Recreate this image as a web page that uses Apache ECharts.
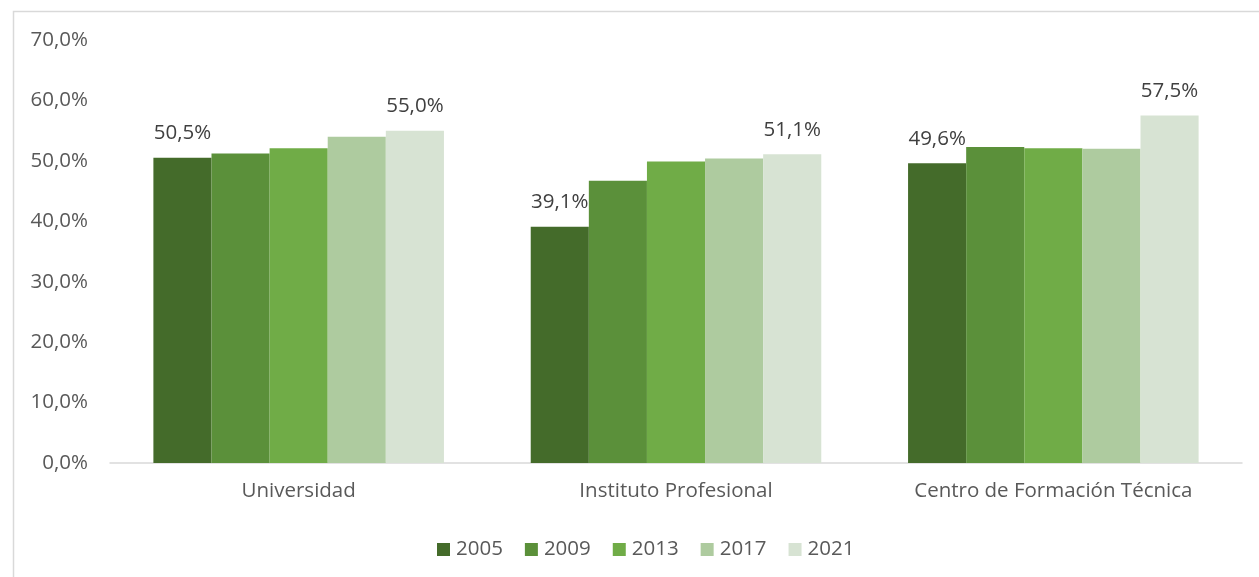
<!DOCTYPE html>
<html>
<head>
<meta charset="utf-8">
<script src="https://cdn.jsdelivr.net/npm/echarts@6/dist/echarts.min.js"></script>
<style>html,body{margin:0;padding:0;background:#fff}#c{width:1259px;height:577px}</style>
</head>
<body>
<div id="c"></div>
<script>
const categories = ['Universidad', 'Instituto Profesional', 'Centro de Formación Técnica'];
const years = ['2005', '2009', '2013', '2017', '2021'];
const v2005 = [50.5, 39.1, 49.6];
const v2009 = [51.2, 46.7, 52.3];
const v2013 = [52.1, 49.9, 52.1];
const v2017 = [54.0, 50.4, 52.0];
const v2021 = [55.0, 51.1, 57.5];
const yTicks = [0, 10, 20, 30, 40, 50, 60, 70];

const seriesValues = [v2005, v2009, v2013, v2017, v2021];
const colors = ['#446B2A', '#5B903A', '#70AC47', '#AECB9F', '#D7E3D3'];
const labelled = [true, false, false, false, true];
const FONT = 'Open Sans';
const FS = 20.5;
const fmt = v => v.toFixed(1).replace('.', ',') + '%';

const chart = echarts.init(document.getElementById('c'), null, {renderer: 'canvas'});
chart.setOption({
  animation: false,
  textStyle: {fontFamily: FONT},
  graphic: [{
    type: 'rect', left: 11, top: 9, silent: true,
    shape: {x: 0, y: 0, width: 1300, height: 620},
    style: {fill: 'none', stroke: '#D9D9D9', lineWidth: 1.5}
  }],
  grid: {left: 110, right: 17, top: 40, bottom: 114},
  legend: {
    data: years, bottom: 12, left: 432,
    itemWidth: 13, itemHeight: 13, itemGap: 22, icon: 'rect',
    textStyle: {fontFamily: FONT, fontSize: FS, color: '#595959', padding: [0, 0, 0, 1]}
  },
  xAxis: {
    type: 'category', data: categories,
    axisLine: {lineStyle: {color: '#D9D9D9', width: 1.5}},
    axisTick: {show: false},
    axisLabel: {fontFamily: FONT, fontSize: FS, color: '#595959', margin: 18}
  },
  yAxis: {
    type: 'value', min: yTicks[0], max: yTicks[yTicks.length - 1], interval: 10,
    axisLine: {show: false}, axisTick: {show: false}, splitLine: {show: false},
    axisLabel: {fontFamily: FONT, fontSize: FS, color: '#595959', margin: 22, formatter: v => fmt(v)}
  },
  series: years.map((y, i) => ({
    name: y, type: 'bar', data: seriesValues[i],
    barGap: '0%', barCategoryGap: '23%',
    itemStyle: {color: colors[i]},
    label: {
      show: labelled[i], position: 'top', distance: 14,
      fontFamily: FONT, fontSize: FS, color: '#404040',
      formatter: p => fmt(p.value)
    }
  }))
});
</script>
</body>
</html>
